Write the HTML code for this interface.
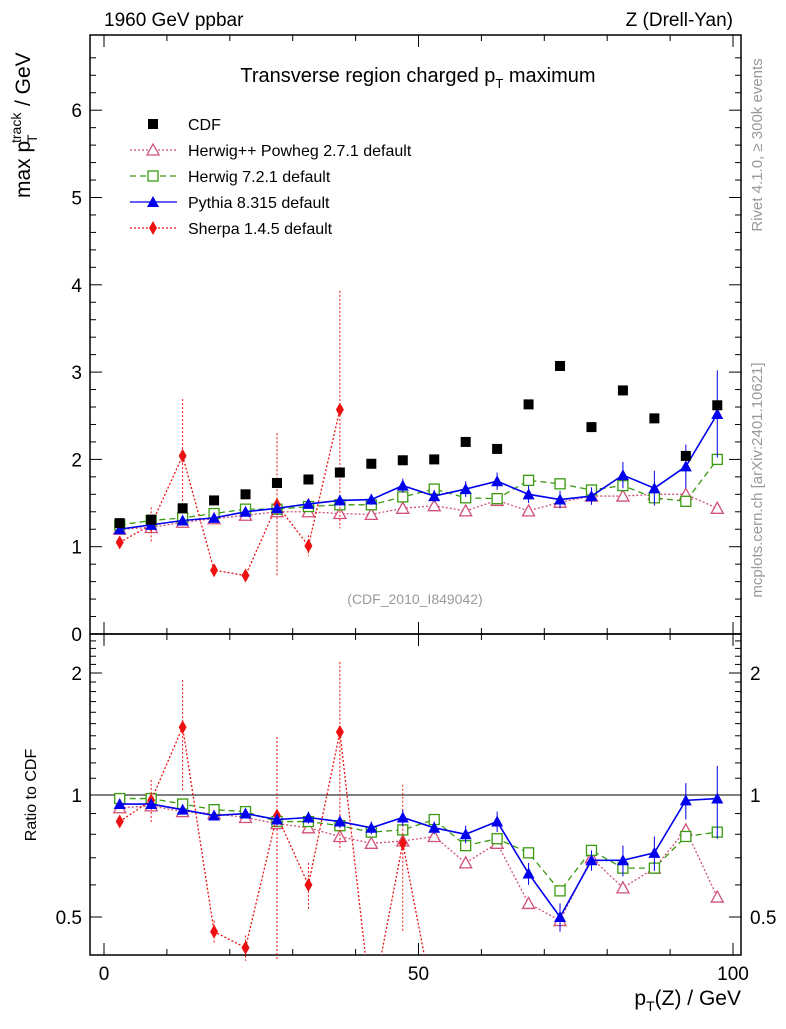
<!DOCTYPE html>
<html><head><meta charset="utf-8"><style>
body{margin:0;background:#fff;}
svg text{font-family:"Liberation Sans",sans-serif;}
</style></head><body>
<svg id="c" width="786" height="1024" xmlns="http://www.w3.org/2000/svg">
<defs><clipPath id="cu"><rect x="90" y="35" width="651" height="599"/></clipPath><clipPath id="cr"><rect x="90" y="634" width="651" height="321"/></clipPath></defs>
</svg>
<script>
const xbins=[2.5,7.5,12.5,17.5,22.5,27.5,32.5,37.5,42.5,47.5,52.5,57.5,62.5,67.5,72.5,77.5,82.5,87.5,92.5,97.5];
const cdf=[1.27,1.31,1.44,1.53,1.60,1.73,1.77,1.85,1.95,1.99,2.00,2.20,2.12,2.63,3.07,2.37,2.79,2.47,2.04,2.62];
const hpp=[1.20,1.22,1.28,1.32,1.36,1.40,1.40,1.38,1.37,1.44,1.47,1.41,1.53,1.41,1.51,1.58,1.58,1.60,1.60,1.44];
const h7=[1.25,1.30,1.33,1.38,1.43,1.43,1.46,1.48,1.48,1.57,1.66,1.56,1.55,1.76,1.72,1.65,1.70,1.56,1.52,2.00];
const py=[1.20,1.25,1.30,1.33,1.40,1.44,1.49,1.53,1.54,1.70,1.58,1.66,1.75,1.60,1.54,1.58,1.82,1.67,1.92,2.52];
const pyErr=[0.03,0.03,0.04,0.04,0.04,0.05,0.05,0.06,0.06,0.08,0.07,0.09,0.1,0.1,0.1,0.1,0.15,0.2,0.25,0.5];
const sh=[1.05,1.25,2.04,0.73,0.67,1.48,1.01,2.57];
const shErr=[0.05,0.2,0.65,0.05,0.05,0.82,0.12,1.36];
const rHpp=[.93,.94,.91,.90,.88,.85,.83,.79,.76,.77,.79,.68,.76,.54,.49,.70,.59,.66,.82,.56];
const rH7=[.98,.98,.95,.92,.91,.86,.86,.84,.81,.82,.87,.75,.78,.72,.58,.73,.66,.66,.79,.81];
const rPy=[.95,.95,.92,.89,.90,.87,.88,.86,.83,.88,.83,.80,.86,.64,.50,.69,.69,.72,.97,.98];
const rPyErr=[.02,.02,.02,.02,.02,.03,.03,.03,.03,.04,.03,.04,.05,.04,.04,.04,.06,.07,.1,.2];
const rSh=[.86,.97,1.47,.46,.42,.89,.60,1.43,.3,.76,.3];
const rShErr=[.02,.12,.45,.03,.03,.5,.08,.7,0,.3,0];
const yTicks=[0,1,2,3,4,5,6];
const xTicks=[0,50,100];
const rTicks=[0.5,1,2];

const S=document.getElementById('c'),NS='http://www.w3.org/2000/svg';
function el(t,a,p){const e=document.createElementNS(NS,t);for(const k in a)e.setAttribute(k,a[k]);(p||S).appendChild(e);return e;}
const L=90,R=741,T=35,M=634,B=955;
const X=v=>104+v*6.29;
const Y=v=>634-v*87.3;
const RY=v=>795-Math.log2(v)*122;

let f1=el('rect',{x:L,y:T,width:R-L,height:M-T,fill:'none',stroke:'#000','stroke-width':1.5});

let f2=el('rect',{x:L,y:M,width:R-L,height:B-M,fill:'none',stroke:'#000','stroke-width':1.5});

let one=el('line',{x1:L,x2:R,y1:RY(1),y2:RY(1),stroke:'#000'});


for(let v=0;v<=100;v+=10){const len=v%50===0?12:6;
 for(const[y0,d] of [[M,-1],[T,1],[B,-1],[M,1]]) el('line',{x1:X(v),x2:X(v),y1:y0,y2:y0+d*len,stroke:'#000'});}
for(const v of xTicks){const t=el('text',{x:X(v),y:980,'font-size':19,'text-anchor':'middle'});t.textContent=v;
 }
for(let v=0;v<=6.8;v+=0.2){const y=Y(v);if(y<T)break;const maj=Math.abs(v-Math.round(v))<1e-6;const len=maj?12:6;
 el('line',{x1:L,x2:L+len,y1:y,y2:y,stroke:'#000'});el('line',{x1:R,x2:R-len,y1:y,y2:y,stroke:'#000'});}
for(const v of yTicks){const t=el('text',{x:82,y:Y(v)+7,'font-size':19,'text-anchor':'end'});t.textContent=v;
 }
for(let v=0.4;v<=2.5;v+=0.1){const y=RY(v);if(y<M||y>B)continue;const maj=rTicks.some(r=>Math.abs(r-v)<1e-6);const len=maj?12:6;
 el('line',{x1:L,x2:L+len,y1:y,y2:y,stroke:'#000'});el('line',{x1:R,x2:R-len,y1:y,y2:y,stroke:'#000'});}
for(const v of rTicks){for(const[x,a] of [[82,'end'],[750,'start']]){const t=el('text',{x:x,y:RY(v)+7,'font-size':19,'text-anchor':a});t.textContent=v;
 }}

function txt(s,a,name){const t=el('text',a);t.innerHTML=s;return t;}
txt('1960 GeV ppbar',{x:104,y:26,'font-size':19},'header-left');
txt('Z (Drell-Yan)',{x:733,y:26,'font-size':19,'text-anchor':'end'},'header-right');
txt('Transverse region charged p<tspan font-size="13" dy="6">T</tspan><tspan dy="-6"> maximum</tspan>',{x:418,y:82,'font-size':20,'text-anchor':'middle'},'plot-title');
txt('(CDF_2010_I849042)',{x:415,y:604,'font-size':14,fill:'#999','text-anchor':'middle'},'analysis-id');
txt('p<tspan font-size="14" dy="6">T</tspan><tspan dy="-6">(Z) / GeV</tspan>',{x:741,y:1005,'font-size':21,'text-anchor':'end'},'x-axis-title');
const yt=el('g',{transform:'translate(30,0) rotate(-90)'});

el('text',{x:-198,y:0,'font-size':21},yt).textContent='max p';
el('text',{x:-143,y:-9,'font-size':14},yt).textContent='track';
el('text',{x:-143,y:7,'font-size':14},yt).textContent='T';
el('text',{x:-106,y:0,'font-size':21},yt).textContent='/ GeV';
txt('Ratio to CDF',{transform:'translate(36,795) rotate(-90)','font-size':16,'text-anchor':'middle'},'ratio-axis-title');
txt('Rivet 4.1.0, ≥ 300k events',{transform:'translate(762,145) rotate(-90)','font-size':15,fill:'#999','text-anchor':'middle'},'rivet-label');
txt('mcplots.cern.ch [arXiv:2401.10621]',{transform:'translate(762,480) rotate(-90)','font-size':15,fill:'#999','text-anchor':'middle'},'mcplots-label');

function marker(type,x,y,color,g){
 if(type==='sq')el('rect',{x:x-5,y:y-5,width:10,height:10,fill:'#000'},g);
 else if(type==='osq')el('rect',{x:x-5,y:y-5,width:10,height:10,fill:'#fff',stroke:color,'stroke-width':1.3},g);
 else if(type==='otri')el('polygon',{points:`${x},${y-6} ${x-6},${y+5} ${x+6},${y+5}`,fill:'#fff',stroke:color,'stroke-width':1.3},g);
 else if(type==='tri')el('polygon',{points:`${x},${y-6} ${x-6},${y+5} ${x+6},${y+5}`,fill:color},g);
 else if(type==='dia')el('polygon',{points:`${x},${y-7} ${x-4},${y} ${x},${y+7} ${x+4},${y}`,fill:color},g);
}
function series(name,vals,Yf,clip,type,color,dash,err){
 const g=el('g',{'clip-path':clip});
 let d='';
 vals.forEach((v,i)=>{const x=X(xbins[i]),y=Yf(v);d+=(i?'L':'M')+x+','+y;});
 if(type!=='sq')el('path',{d:d,fill:'none',stroke:color,'stroke-width':type==='tri'?1.6:1.3,'stroke-dasharray':dash},g);
 vals.forEach((v,i)=>{const x=X(xbins[i]),y=Yf(v);
  if(err&&err[i]){const e=err[i];el('line',{x1:x,x2:x,y1:Yf(v+e),y2:Yf(Math.max(v-e,0.05)),stroke:color,'stroke-dasharray':dash});}
  marker(type,x,y,color,g);});
 return g;
}
series('herwigpp-series',hpp,Y,'url(#cu)','otri','#d0507a','2,2');
series('herwig7-series',h7,Y,'url(#cu)','osq','#3a9a10','6,4');
series('sherpa-series',sh,Y,'url(#cu)','dia','#ee1111','2,2',shErr);
series('pythia-series',py,Y,'url(#cu)','tri','#0000ee','',pyErr);
series('cdf-series',cdf,Y,'url(#cu)','sq','#000','');
series('herwigpp-ratio',rHpp,RY,'url(#cr)','otri','#d0507a','2,2');
series('herwig7-ratio',rH7,RY,'url(#cr)','osq','#3a9a10','6,4');
series('sherpa-ratio',rSh,RY,'url(#cr)','dia','#ee1111','2,2',rShErr);
series('pythia-ratio',rPy,RY,'url(#cr)','tri','#0000ee','',rPyErr);

const leg=[['CDF','sq','#000',''],['Herwig++ Powheg 2.7.1 default','otri','#d0507a','2,2'],['Herwig 7.2.1 default','osq','#3a9a10','6,4'],['Pythia 8.315 default','tri','#0000ee',''],['Sherpa 1.4.5 default','dia','#ee1111','2,2']];
leg.forEach((l,i)=>{const y=124+i*26;const g=el('g',{});
 if(l[1]!=='sq')el('line',{x1:130,x2:177,y1:y,y2:y,stroke:l[2],'stroke-dasharray':l[3],'stroke-width':1.3},g);
 marker(l[1],153,y,l[2],g);const t=el('text',{x:188,y:y+6,'font-size':16},g);t.textContent=l[0];});
</script>
</body></html>
